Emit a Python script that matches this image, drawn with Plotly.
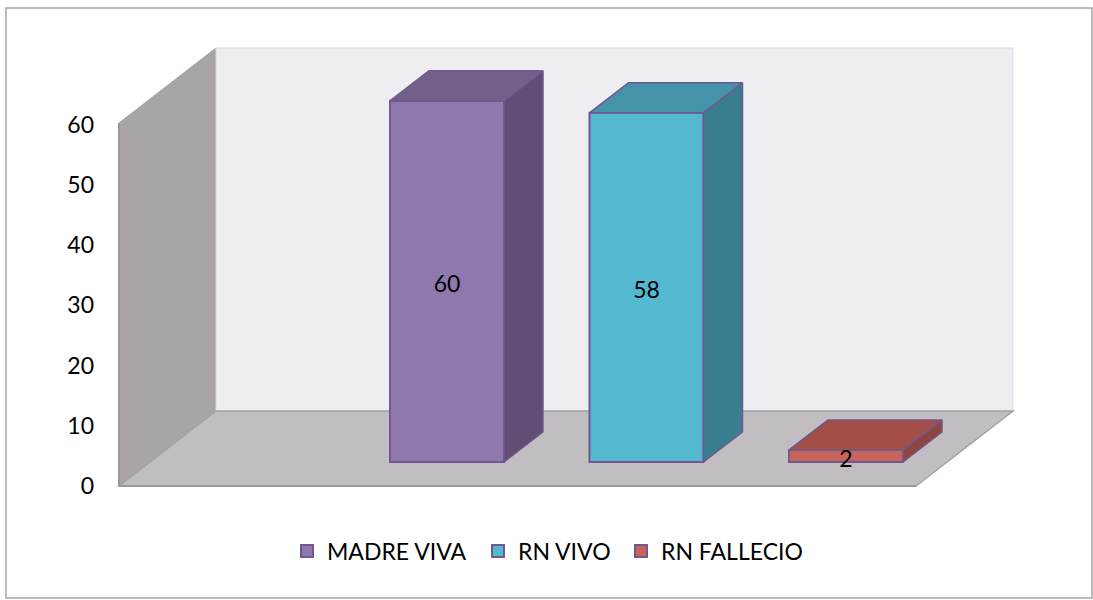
import plotly.graph_objects as go

# ---- data ----
SERIES = ["MADRE VIVA", "RN VIVO", "RN FALLECIO"]
VALUES = [60, 58, 2]
Y_TICKS = [0, 10, 20, 30, 40, 50, 60]

# ---- styles ----
FRONT = ["#8F78AE", "#53B8D0", "#C7645C"]
SIDE = ["#624D75", "#377F8F", "#8E4540"]
TOP = ["#73608A", "#4593A9", "#A34E47"]
EDGE = "#71588F"
FONT = "Lato"
FONT_SIZE = 23

# ---- geometry (figure pixels) ----
W, H = 1093, 600
L, R, T, B = 110, 1022, 40, 493     # plot area
X0_PX, Y0_PX = 447, 486             # first bar centre, value 0
PX_X, PX_Y = 199.5, 6.02            # px per category, px per value unit
x_of = lambda p: (p - X0_PX) / PX_X
BAR_W = 114 / PX_X
BAR_DX, BAR_DY = 39 / PX_X, 30 / PX_Y
BASE = 24 / PX_Y
WALL_DX, WALL_DY = 97 / PX_X, 75 / PX_Y
WALL_L, WALL_R = x_of(119), x_of(916)
WALL_H = 60.3
LABEL_DROP = 5 / PX_Y
LEGEND_TEXT_PX = [327, 518, 661]    # where each legend label starts
LEGEND_Y_PX = 551

fig = go.Figure()

legend_ids = ["legend", "legend2", "legend3"]
for i, (name, v) in enumerate(zip(SERIES, VALUES)):
    fig.add_bar(x=[i], y=[v], base=[BASE], width=BAR_W, name=name, legend=legend_ids[i],
                marker=dict(color=FRONT[i], line=dict(color=EDGE, width=2)),
                hoverinfo="skip")

for i, v in enumerate(VALUES):
    xl, xr = i - BAR_W / 2, i + BAR_W / 2
    y0, y1 = BASE, BASE + v
    fig.add_scatter(x=[xr, xr + BAR_DX, xr + BAR_DX, xr, xr],
                    y=[y0, y0 + BAR_DY, y1 + BAR_DY, y1, y0],
                    mode="lines", fill="toself", fillcolor=SIDE[i],
                    line=dict(color=EDGE, width=1.5), showlegend=False, hoverinfo="skip")
    fig.add_scatter(x=[xl, xl + BAR_DX, xr + BAR_DX, xr, xl],
                    y=[y1, y1 + BAR_DY, y1 + BAR_DY, y1, y1],
                    mode="lines", fill="toself", fillcolor=TOP[i],
                    line=dict(color=EDGE, width=1.5), showlegend=False, hoverinfo="skip")

fig.add_scatter(x=list(range(len(VALUES))),
                y=[BASE + v / 2 - LABEL_DROP for v in VALUES],
                text=[str(v) for v in VALUES], mode="text",
                textposition="middle center",
                textfont=dict(family=FONT, size=FONT_SIZE, color="#000000"),
                showlegend=False, hoverinfo="skip")


def poly(pts):
    return "M" + " L".join(f"{a},{b}" for a, b in pts) + " Z"


shapes = [
    dict(type="path", layer="below", xref="x", yref="y",
         path=poly([(WALL_L, 0), (WALL_L, WALL_H), (WALL_L + WALL_DX, WALL_H + WALL_DY),
                    (WALL_L + WALL_DX, WALL_DY)]),
         fillcolor="#A8A4A7", line=dict(color="#A3A0A2", width=1)),
    dict(type="path", layer="below", xref="x", yref="y",
         path=poly([(WALL_L + WALL_DX, WALL_DY), (WALL_L + WALL_DX, WALL_H + WALL_DY),
                    (WALL_R + WALL_DX, WALL_H + WALL_DY), (WALL_R + WALL_DX, WALL_DY)]),
         fillcolor="#EEEDF2", line=dict(color="#DDDCE0", width=1)),
    dict(type="path", layer="below", xref="x", yref="y",
         path=poly([(WALL_L, 0), (WALL_L + WALL_DX, WALL_DY), (WALL_R + WALL_DX, WALL_DY),
                    (WALL_R, 0)]),
         fillcolor="#C1BDC0", line=dict(color="#A3A3A3", width=1.5)),
    dict(type="line", layer="below", xref="x", yref="y", x0=WALL_L, x1=WALL_L, y0=0, y1=WALL_H,
         line=dict(color="#989898", width=2)),
    dict(type="line", layer="below", xref="x", yref="y", x0=WALL_L, x1=WALL_R, y0=0, y1=0,
         line=dict(color="#989898", width=2)),
    dict(type="rect", layer="below", xref="paper", yref="paper",
         x0=(6 - L) / (R - L), x1=(1092 - L) / (R - L),
         y0=(B - 598) / (B - T), y1=(B - 8) / (B - T),
         line=dict(color="#A6A6A6", width=1.5), fillcolor="rgba(0,0,0,0)"),
]

legend_layouts = {
    lid: dict(orientation="h", x=(px - 40 - L) / (R - L), xanchor="left",
              y=(B - LEGEND_Y_PX) / (B - T), yanchor="middle",
              bgcolor="rgba(0,0,0,0)",
              font=dict(family=FONT, size=FONT_SIZE, color="#000000"))
    for lid, px in zip(legend_ids, LEGEND_TEXT_PX)
}

fig.update_layout(
    width=W, height=H, autosize=False,
    margin=dict(l=L, r=W - R, t=T, b=H - B, pad=0),
    paper_bgcolor="#FFFFFF", plot_bgcolor="rgba(0,0,0,0)",
    barmode="overlay", shapes=shapes,
    font=dict(family=FONT, size=FONT_SIZE, color="#000000"),
    xaxis=dict(visible=False, range=[x_of(L), x_of(R)], fixedrange=True),
    yaxis=dict(range=[(Y0_PX - B) / PX_Y, (Y0_PX - T) / PX_Y],
               tickmode="array", tickvals=Y_TICKS, ticktext=[str(t) for t in Y_TICKS],
               showgrid=False, zeroline=False, showline=False, ticks="",
               ticklabelstandoff=15, fixedrange=True,
               tickfont=dict(family=FONT, size=FONT_SIZE, color="#000000")),
    showlegend=True,
    **legend_layouts,
)

fig.write_html("out.html", config=dict(displayModeBar=False),
               post_script="document.body.style.margin='0';document.documentElement.style.overflow='hidden';")
